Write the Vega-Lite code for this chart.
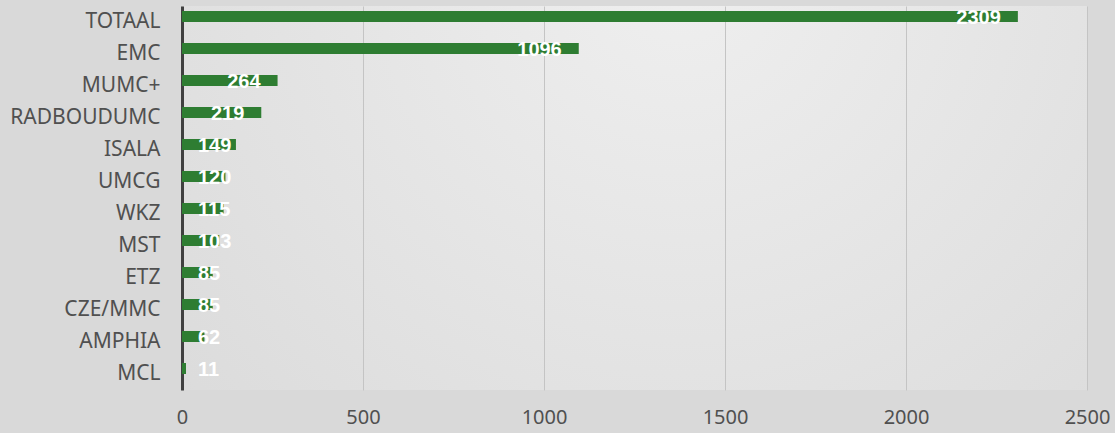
{
  "$schema": "https://vega.github.io/schema/vega-lite/v6.json",
  "width": 905,
  "height": 384,
  "autosize": {"type": "none"},
  "padding": {"left": 182, "top": 6, "right": 28, "bottom": 43},
  "background": "#d9d9d9",
  "config": {
    "view": {
      "stroke": null,
      "fill": {"gradient": "radial", "x1": 0.55, "y1": 0.25, "r1": 0, "x2": 0.55, "y2": 0.25, "r2": 0.85,
        "stops": [{"offset": 0, "color": "#efefef"}, {"offset": 1, "color": "#d8d8d8"}]}
    },
    "font": "Noto Sans"
  },
  "data": {
    "values": [
      {"ziekenhuis": "TOTAAL", "aantal": 2309},
      {"ziekenhuis": "EMC", "aantal": 1096},
      {"ziekenhuis": "MUMC+", "aantal": 264},
      {"ziekenhuis": "RADBOUDUMC", "aantal": 219},
      {"ziekenhuis": "ISALA", "aantal": 149},
      {"ziekenhuis": "UMCG", "aantal": 120},
      {"ziekenhuis": "WKZ", "aantal": 115},
      {"ziekenhuis": "MST", "aantal": 103},
      {"ziekenhuis": "ETZ", "aantal": 85},
      {"ziekenhuis": "CZE/MMC", "aantal": 85},
      {"ziekenhuis": "AMPHIA", "aantal": 62},
      {"ziekenhuis": "MCL", "aantal": 11}
    ]
  },
  "encoding": {
    "y": {
      "field": "ziekenhuis", "type": "nominal", "sort": null, "title": null,
      "scale": {"paddingInner": 0, "paddingOuter": 0},
      "axis": {"ticks": false, "domainColor": "#404040", "domainWidth": 3, "labelFontSize": 21, "labelColor": "#505050", "labelPadding": 22, "labelFont": "Noto Sans"}
    }
  },
  "layer": [
    {
      "mark": {"type": "bar", "color": "#2E7D32", "height": 11, "yOffset": -5.5},
      "encoding": {
        "x": {
          "field": "aantal", "type": "quantitative", "title": null,
          "scale": {"domain": [0, 2500], "nice": false},
          "axis": {"values": [0, 500, 1000, 1500, 2000, 2500], "format": "d", "domain": false, "ticks": false, "gridColor": "#c4c4c4", "gridWidth": 1, "labelFontSize": 20, "labelColor": "#505050", "labelPadding": 17, "labelFlush": false}
        }
      }
    },
    {
      "transform": [{"filter": "datum.aantal >= 200"}],
      "mark": {"type": "text", "align": "right", "baseline": "middle", "dx": -17, "yOffset": -4.5, "color": "white", "fontSize": 20, "fontWeight": "bold", "font": "Liberation Sans"},
      "encoding": {
        "x": {"field": "aantal", "type": "quantitative"},
        "text": {"field": "aantal", "type": "quantitative"}
      }
    },
    {
      "transform": [{"filter": "datum.aantal < 200"}],
      "mark": {"type": "text", "align": "left", "baseline": "middle", "dx": 16, "yOffset": -4.5, "color": "white", "fontSize": 20, "fontWeight": "bold", "font": "Liberation Sans"},
      "encoding": {
        "x": {"datum": 0, "type": "quantitative"},
        "text": {"field": "aantal", "type": "quantitative"}
      }
    }
  ]
}
